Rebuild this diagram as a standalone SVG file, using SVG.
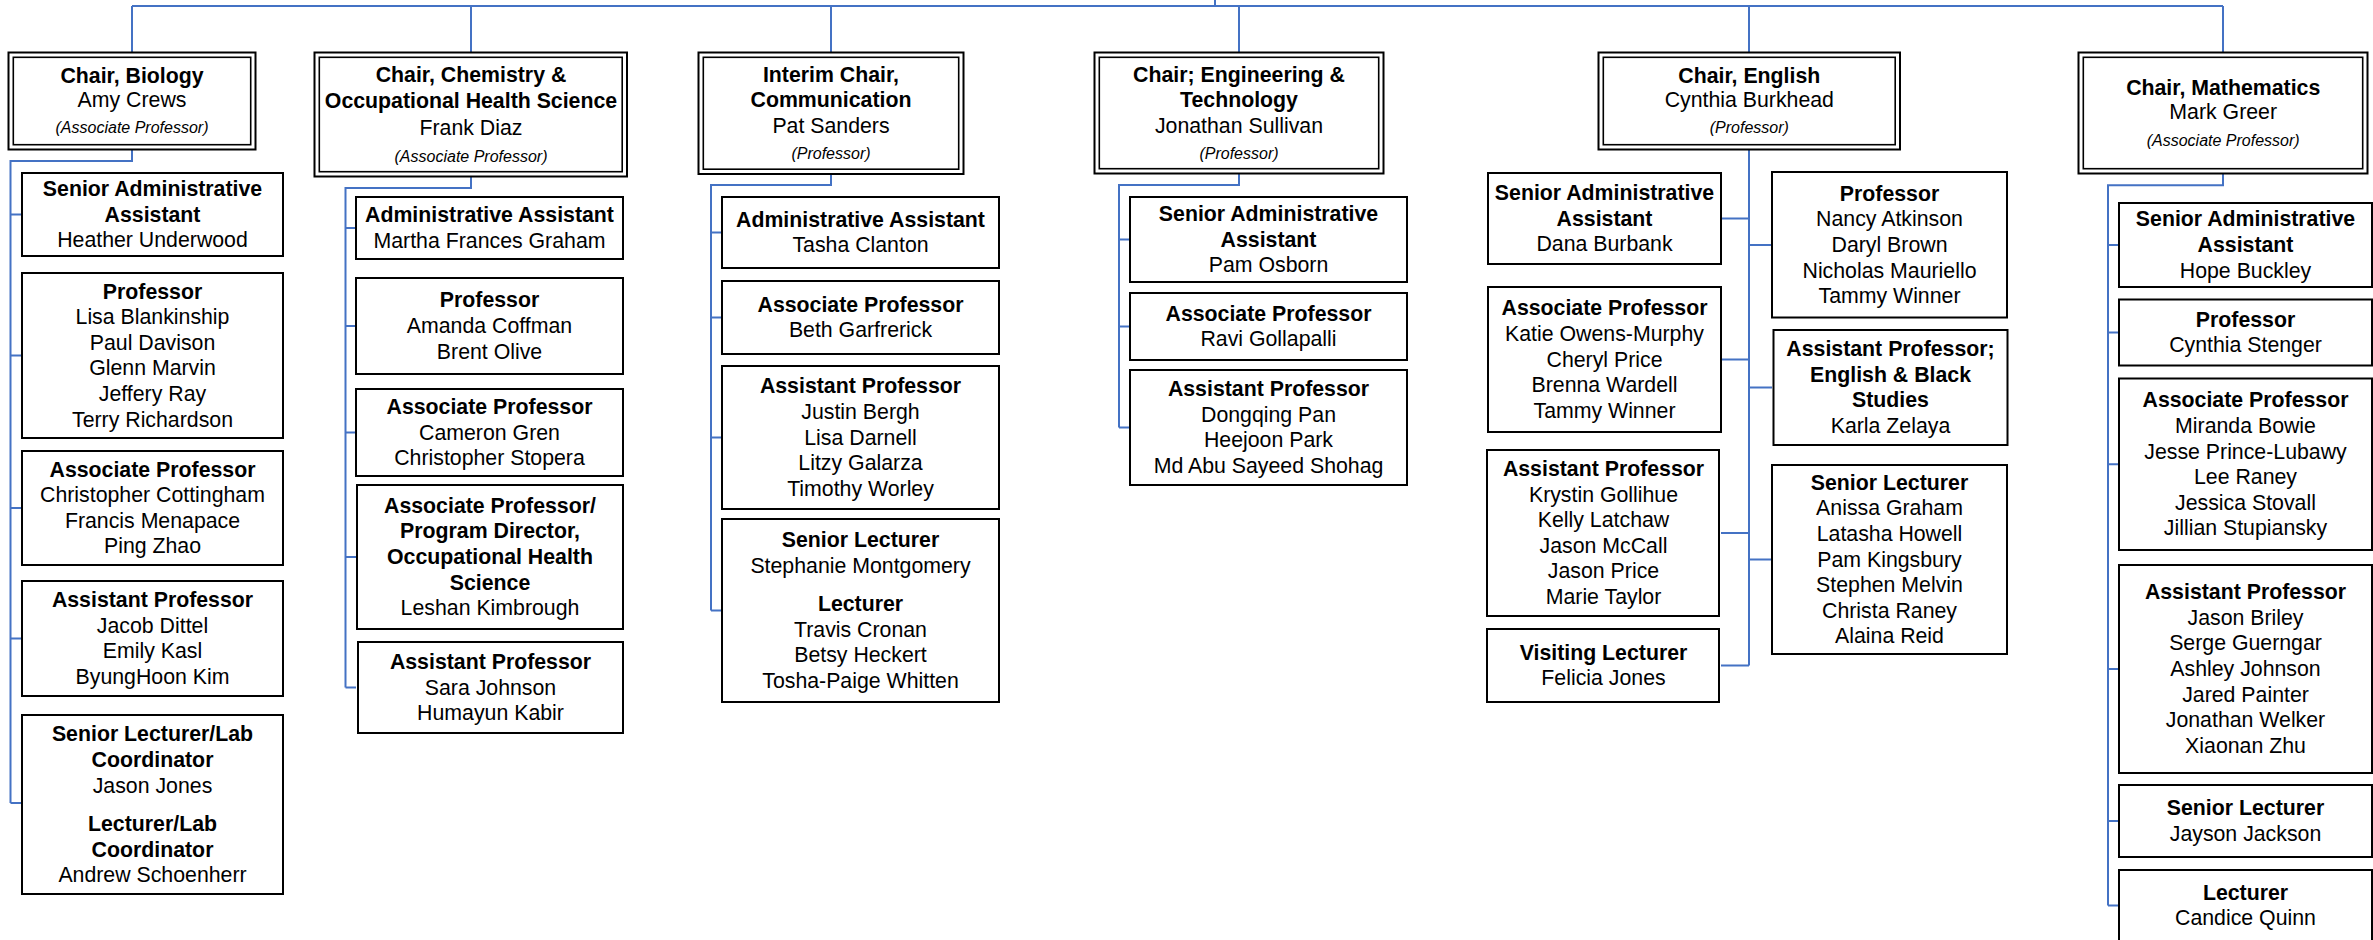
<svg xmlns="http://www.w3.org/2000/svg" width="2373" height="940" viewBox="0 0 2373 940">
<style>
text{font-family:"Liberation Sans",Arial,sans-serif;text-anchor:middle;fill:#000}
.b{font-weight:bold;font-size:21.3px}
.r{font-size:21.3px}
.i{font-style:italic;font-size:16px}
.box{fill:#fff;stroke:#000;stroke-width:2}
.in{fill:none;stroke:#000;stroke-width:1.6}
.conn{fill:none;stroke:#4472C4;stroke-width:2}
</style>
<rect width="2373" height="940" fill="#fff"/>
<g id="connectors" class="conn">
<path d="M1215,0 V6 M132,6 H2223 M132,6 V52 M471,6 V52 M831,6 V52 M1239,6 V52 M1749,6 V52 M2223,6 V52"/>
<path d="M132,150 V161 H10.5 V803 M10.5,214.5 H22 M10.5,355.5 H22 M10.5,508 H22 M10.5,638.5 H22 M10.5,803 H22"/>
<path d="M471,177 V188 H345.5 V687.5 M345.5,228 H356 M345.5,326 H356 M345.5,432.5 H356 M345.5,557 H356 M345.5,687.5 H356"/>
<path d="M831,174 V185 H711 V610.5 M711,232.5 H722 M711,317.5 H722 M711,437.5 H722 M711,610.5 H722"/>
<path d="M1239,174 V185 H1119 V427.5 M1119,239.5 H1130 M1119,326.5 H1130 M1119,427.5 H1130"/>
<path d="M1749,150 V665.5 M1749,218.5 H1721 M1749,359.5 H1721 M1749,533 H1721 M1749,665.5 H1721 M1749,245 H1772 M1749,387.5 H1772 M1749,559.5 H1772"/>
<path d="M2223,174 V185.3 H2108 V905.5 M2108,245 H2119 M2108,332.5 H2119 M2108,464.3 H2119 M2108,669 H2119 M2108,821 H2119 M2108,905.5 H2119"/>
</g>

<g id="chair-biology">
<rect class="box" x="8.5" y="52.5" width="247" height="97"/>
<rect class="in" x="13.3" y="57.3" width="237.4" height="87.4"/>
<text><tspan class="b" x="132" y="82.7">Chair, Biology</tspan><tspan class="r" x="132" y="107.3">Amy Crews</tspan><tspan class="i" x="132" y="132.7">(Associate Professor)</tspan></text>
</g>
<g id="chair-chemistry">
<rect class="box" x="314.5" y="52.5" width="312.5" height="124"/>
<rect class="in" x="319.3" y="57.3" width="302.9" height="114.4"/>
<text><tspan class="b" x="471" y="81.7">Chair, Chemistry &amp;</tspan><tspan class="b" x="471" y="108">Occupational Health Science</tspan><tspan class="r" x="471" y="135">Frank Diaz</tspan><tspan class="i" x="471" y="161.5">(Associate Professor)</tspan></text>
</g>
<g id="chair-communication">
<rect class="box" x="698.5" y="52.5" width="265" height="121.5"/>
<rect class="in" x="703.3" y="57.3" width="255.4" height="111.9"/>
<text><tspan class="b" x="831" y="81.7">Interim Chair,</tspan><tspan class="b" x="831" y="107.3">Communication</tspan><tspan class="r" x="831" y="133.3">Pat Sanders</tspan><tspan class="i" x="831" y="159.3">(Professor)</tspan></text>
</g>
<g id="chair-engineering">
<rect class="box" x="1094.5" y="52.5" width="289" height="121"/>
<rect class="in" x="1099.3" y="57.3" width="279.4" height="111.4"/>
<text><tspan class="b" x="1239" y="81.7">Chair; Engineering &amp;</tspan><tspan class="b" x="1239" y="107.3">Technology</tspan><tspan class="r" x="1239" y="133.3">Jonathan Sullivan</tspan><tspan class="i" x="1239" y="159.3">(Professor)</tspan></text>
</g>
<g id="chair-english">
<rect class="box" x="1598.5" y="52.5" width="301.5" height="97"/>
<rect class="in" x="1603.3" y="57.3" width="291.9" height="87.4"/>
<text><tspan class="b" x="1749.3" y="82.7">Chair, English</tspan><tspan class="r" x="1749.3" y="107.3">Cynthia Burkhead</tspan><tspan class="i" x="1749.3" y="132.7">(Professor)</tspan></text>
</g>
<g id="chair-mathematics">
<rect class="box" x="2078.5" y="52.5" width="289" height="121"/>
<rect class="in" x="2083.3" y="57.3" width="279.4" height="111.4"/>
<text><tspan class="b" x="2223.2" y="95">Chair, Mathematics</tspan><tspan class="r" x="2223.2" y="119.3">Mark Greer</tspan><tspan class="i" x="2223.2" y="146">(Associate Professor)</tspan></text>
</g>

<g id="bio-senior-admin">
<rect class="box" x="22" y="173" width="261" height="83"/>
<text><tspan class="b" x="152.5" y="195.9">Senior Administrative</tspan><tspan class="b" x="152.5" y="221.5">Assistant</tspan><tspan class="r" x="152.5" y="247.1">Heather Underwood</tspan></text>
</g>
<g id="bio-professor">
<rect class="box" x="22" y="273" width="261" height="165"/>
<text><tspan class="b" x="152.5" y="298.5">Professor</tspan><tspan class="r" x="152.5" y="324.1">Lisa Blankinship</tspan><tspan class="r" x="152.5" y="349.7">Paul Davison</tspan><tspan class="r" x="152.5" y="375.3">Glenn Marvin</tspan><tspan class="r" x="152.5" y="400.9">Jeffery Ray</tspan><tspan class="r" x="152.5" y="426.5">Terry Richardson</tspan></text>
</g>
<g id="bio-associate">
<rect class="box" x="22" y="451" width="261" height="114"/>
<text><tspan class="b" x="152.5" y="476.6">Associate Professor</tspan><tspan class="r" x="152.5" y="502.2">Christopher Cottingham</tspan><tspan class="r" x="152.5" y="527.8">Francis Menapace</tspan><tspan class="r" x="152.5" y="553.4">Ping Zhao</tspan></text>
</g>
<g id="bio-assistant">
<rect class="box" x="22" y="581" width="261" height="115"/>
<text><tspan class="b" x="152.5" y="607.1">Assistant Professor</tspan><tspan class="r" x="152.5" y="632.7">Jacob Dittel</tspan><tspan class="r" x="152.5" y="658.3">Emily Kasl</tspan><tspan class="r" x="152.5" y="683.9">ByungHoon Kim</tspan></text>
</g>
<g id="bio-lecturers">
<rect class="box" x="22" y="715" width="261" height="179"/>
<text><tspan class="b" x="152.5" y="740.7">Senior Lecturer/Lab</tspan><tspan class="b" x="152.5" y="766.7">Coordinator</tspan><tspan class="r" x="152.5" y="792.7">Jason Jones</tspan><tspan class="b" x="152.5" y="830.7">Lecturer/Lab</tspan><tspan class="b" x="152.5" y="856.7">Coordinator</tspan><tspan class="r" x="152.5" y="881.7">Andrew Schoenherr</tspan></text>
</g>

<g id="chem-admin">
<rect class="box" x="356" y="197" width="267" height="62"/>
<text><tspan class="b" x="489.5" y="222.2">Administrative Assistant</tspan><tspan class="r" x="489.5" y="247.8">Martha Frances Graham</tspan></text>
</g>
<g id="chem-professor">
<rect class="box" x="356" y="278" width="267" height="96"/>
<text><tspan class="b" x="489.5" y="307.4">Professor</tspan><tspan class="r" x="489.5" y="333">Amanda Coffman</tspan><tspan class="r" x="489.5" y="358.6">Brent Olive</tspan></text>
</g>
<g id="chem-associate">
<rect class="box" x="356" y="389" width="267" height="87"/>
<text><tspan class="b" x="489.5" y="413.9">Associate Professor</tspan><tspan class="r" x="489.5" y="439.5">Cameron Gren</tspan><tspan class="r" x="489.5" y="465.1">Christopher Stopera</tspan></text>
</g>
<g id="chem-program-director">
<rect class="box" x="357" y="485" width="266" height="144"/>
<text><tspan class="b" x="490" y="512.8">Associate Professor/</tspan><tspan class="b" x="490" y="538.4">Program Director,</tspan><tspan class="b" x="490" y="564">Occupational Health</tspan><tspan class="b" x="490" y="589.6">Science</tspan><tspan class="r" x="490" y="615.2">Leshan Kimbrough</tspan></text>
</g>
<g id="chem-assistant">
<rect class="box" x="358" y="642" width="265" height="91"/>
<text><tspan class="b" x="490.5" y="668.9">Assistant Professor</tspan><tspan class="r" x="490.5" y="694.5">Sara Johnson</tspan><tspan class="r" x="490.5" y="720.1">Humayun Kabir</tspan></text>
</g>

<g id="comm-admin">
<rect class="box" x="722" y="197" width="277" height="71"/>
<text><tspan class="b" x="860.5" y="226.7">Administrative Assistant</tspan><tspan class="r" x="860.5" y="252.3">Tasha Clanton</tspan></text>
</g>
<g id="comm-associate">
<rect class="box" x="722" y="281" width="277" height="73"/>
<text><tspan class="b" x="860.5" y="311.7">Associate Professor</tspan><tspan class="r" x="860.5" y="337.3">Beth Garfrerick</tspan></text>
</g>
<g id="comm-assistant">
<rect class="box" x="722" y="366" width="277" height="143"/>
<text><tspan class="b" x="860.5" y="393.3">Assistant Professor</tspan><tspan class="r" x="860.5" y="418.9">Justin Bergh</tspan><tspan class="r" x="860.5" y="444.5">Lisa Darnell</tspan><tspan class="r" x="860.5" y="470.1">Litzy Galarza</tspan><tspan class="r" x="860.5" y="495.7">Timothy Worley</tspan></text>
</g>
<g id="comm-lecturers">
<rect class="box" x="722" y="519" width="277" height="183"/>
<text><tspan class="b" x="860.5" y="546.7">Senior Lecturer</tspan><tspan class="r" x="860.5" y="572.7">Stephanie Montgomery</tspan><tspan class="b" x="860.5" y="610.7">Lecturer</tspan><tspan class="r" x="860.5" y="636.7">Travis Cronan</tspan><tspan class="r" x="860.5" y="662.3">Betsy Heckert</tspan><tspan class="r" x="860.5" y="687.7">Tosha-Paige Whitten</tspan></text>
</g>

<g id="eng-senior-admin">
<rect class="box" x="1130" y="197" width="277" height="85"/>
<text><tspan class="b" x="1268.5" y="220.9">Senior Administrative</tspan><tspan class="b" x="1268.5" y="246.5">Assistant</tspan><tspan class="r" x="1268.5" y="272.1">Pam Osborn</tspan></text>
</g>
<g id="eng-associate">
<rect class="box" x="1130" y="293" width="277" height="67"/>
<text><tspan class="b" x="1268.5" y="320.7">Associate Professor</tspan><tspan class="r" x="1268.5" y="346.3">Ravi Gollapalli</tspan></text>
</g>
<g id="eng-assistant">
<rect class="box" x="1130" y="370" width="277" height="115"/>
<text><tspan class="b" x="1268.5" y="396.1">Assistant Professor</tspan><tspan class="r" x="1268.5" y="421.7">Dongqing Pan</tspan><tspan class="r" x="1268.5" y="447.3">Heejoon Park</tspan><tspan class="r" x="1268.5" y="472.9">Md Abu Sayeed Shohag</tspan></text>
</g>

<g id="english-senior-admin">
<rect class="box" x="1488" y="173" width="233" height="91"/>
<text><tspan class="b" x="1604.5" y="199.9">Senior Administrative</tspan><tspan class="b" x="1604.5" y="225.5">Assistant</tspan><tspan class="r" x="1604.5" y="251.1">Dana Burbank</tspan></text>
</g>
<g id="english-associate">
<rect class="box" x="1488" y="287" width="233" height="145"/>
<text><tspan class="b" x="1604.5" y="315.3">Associate Professor</tspan><tspan class="r" x="1604.5" y="340.9">Katie Owens-Murphy</tspan><tspan class="r" x="1604.5" y="366.5">Cheryl Price</tspan><tspan class="r" x="1604.5" y="392.1">Brenna Wardell</tspan><tspan class="r" x="1604.5" y="417.7">Tammy Winner</tspan></text>
</g>
<g id="english-assistant">
<rect class="box" x="1487" y="450" width="232" height="166"/>
<text><tspan class="b" x="1603.5" y="476">Assistant Professor</tspan><tspan class="r" x="1603.5" y="501.6">Krystin Gollihue</tspan><tspan class="r" x="1603.5" y="527.2">Kelly Latchaw</tspan><tspan class="r" x="1603.5" y="552.8">Jason McCall</tspan><tspan class="r" x="1603.5" y="578.4">Jason Price</tspan><tspan class="r" x="1603.5" y="604">Marie Taylor</tspan></text>
</g>
<g id="english-visiting">
<rect class="box" x="1487" y="629" width="232" height="73"/>
<text><tspan class="b" x="1603.5" y="659.7">Visiting Lecturer</tspan><tspan class="r" x="1603.5" y="685.3">Felicia Jones</tspan></text>
</g>
<g id="english-professor">
<rect class="box" x="1772" y="172" width="235" height="145.5"/>
<text><tspan class="b" x="1889.5" y="200.8">Professor</tspan><tspan class="r" x="1889.5" y="226.4">Nancy Atkinson</tspan><tspan class="r" x="1889.5" y="252">Daryl Brown</tspan><tspan class="r" x="1889.5" y="277.6">Nicholas Mauriello</tspan><tspan class="r" x="1889.5" y="303.2">Tammy Winner</tspan></text>
</g>
<g id="english-black-studies">
<rect class="box" x="1773.5" y="330" width="234" height="115"/>
<text><tspan class="b" x="1890.5" y="356.1">Assistant Professor;</tspan><tspan class="b" x="1890.5" y="381.7">English &amp; Black</tspan><tspan class="b" x="1890.5" y="407.3">Studies</tspan><tspan class="r" x="1890.5" y="432.9">Karla Zelaya</tspan></text>
</g>
<g id="english-senior-lecturer">
<rect class="box" x="1772" y="465" width="235" height="189"/>
<text><tspan class="b" x="1889.5" y="489.7">Senior Lecturer</tspan><tspan class="r" x="1889.5" y="515.3">Anissa Graham</tspan><tspan class="r" x="1889.5" y="540.9">Latasha Howell</tspan><tspan class="r" x="1889.5" y="566.5">Pam Kingsbury</tspan><tspan class="r" x="1889.5" y="592.1">Stephen Melvin</tspan><tspan class="r" x="1889.5" y="617.7">Christa Raney</tspan><tspan class="r" x="1889.5" y="643.3">Alaina Reid</tspan></text>
</g>

<g id="math-senior-admin">
<rect class="box" x="2119" y="203" width="253" height="84"/>
<text><tspan class="b" x="2245.5" y="226.4">Senior Administrative</tspan><tspan class="b" x="2245.5" y="252">Assistant</tspan><tspan class="r" x="2245.5" y="277.6">Hope Buckley</tspan></text>
</g>
<g id="math-professor">
<rect class="box" x="2119" y="299.5" width="253" height="66"/>
<text><tspan class="b" x="2245.5" y="326.7">Professor</tspan><tspan class="r" x="2245.5" y="352.3">Cynthia Stenger</tspan></text>
</g>
<g id="math-associate">
<rect class="box" x="2119" y="378.5" width="253" height="171.5"/>
<text><tspan class="b" x="2245.5" y="407.3">Associate Professor</tspan><tspan class="r" x="2245.5" y="432.9">Miranda Bowie</tspan><tspan class="r" x="2245.5" y="458.5">Jesse Prince-Lubawy</tspan><tspan class="r" x="2245.5" y="484.1">Lee Raney</tspan><tspan class="r" x="2245.5" y="509.7">Jessica Stovall</tspan><tspan class="r" x="2245.5" y="535.3">Jillian Stupiansky</tspan></text>
</g>
<g id="math-assistant">
<rect class="box" x="2119" y="565" width="253" height="208"/>
<text><tspan class="b" x="2245.5" y="599.2">Assistant Professor</tspan><tspan class="r" x="2245.5" y="624.8">Jason Briley</tspan><tspan class="r" x="2245.5" y="650.4">Serge Guerngar</tspan><tspan class="r" x="2245.5" y="676">Ashley Johnson</tspan><tspan class="r" x="2245.5" y="701.6">Jared Painter</tspan><tspan class="r" x="2245.5" y="727.2">Jonathan Welker</tspan><tspan class="r" x="2245.5" y="752.8">Xiaonan Zhu</tspan></text>
</g>
<g id="math-senior-lecturer">
<rect class="box" x="2119" y="785" width="253" height="72"/>
<text><tspan class="b" x="2245.5" y="815.2">Senior Lecturer</tspan><tspan class="r" x="2245.5" y="840.8">Jayson Jackson</tspan></text>
</g>
<g id="math-lecturer">
<rect class="box" x="2119" y="870" width="253" height="75"/>
<text><tspan class="b" x="2245.5" y="899.7">Lecturer</tspan><tspan class="r" x="2245.5" y="925.3">Candice Quinn</tspan></text>
</g>
</svg>
